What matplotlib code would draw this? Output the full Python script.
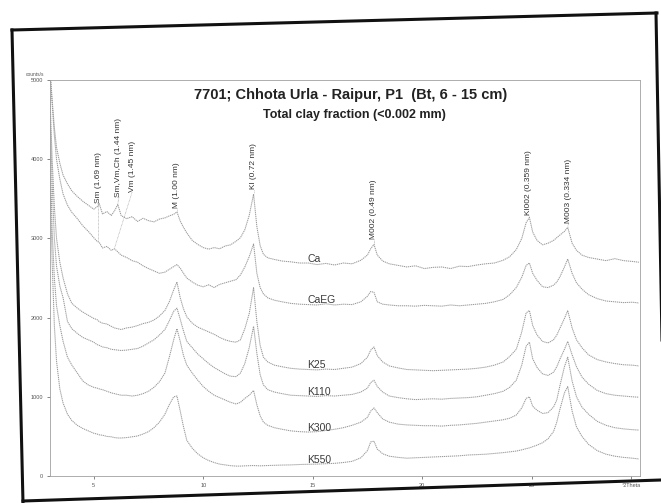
import numpy as np
import matplotlib.pyplot as plt
from matplotlib.lines import Line2D

TWO_THETA = [
    3.0, 3.1, 3.2, 3.3, 3.45, 3.6, 3.8, 4.0, 4.25, 4.5,
    4.75, 5.0, 5.15, 5.25, 5.4, 5.6, 5.8, 5.95, 6.1, 6.25,
    6.5, 6.75, 7.0, 7.25, 7.5, 7.75, 8.0, 8.25, 8.45, 8.65,
    8.8, 8.95, 9.1, 9.25, 9.5, 9.75, 10.0, 10.25, 10.5, 10.75,
    11.0, 11.25, 11.5, 11.7, 11.9, 12.1, 12.3, 12.45, 12.6, 12.75,
    12.95, 13.25, 13.6, 14.0, 14.4, 14.8, 15.2, 15.6, 16.0, 16.4,
    16.8, 17.2, 17.5, 17.65, 17.8, 17.95, 18.2, 18.5, 18.9, 19.3,
    19.7, 20.1, 20.5, 20.9, 21.3, 21.7, 22.1, 22.5, 22.9, 23.3,
    23.7, 24.0, 24.3, 24.55, 24.75, 24.9, 25.05, 25.25, 25.5, 25.75,
    26.0, 26.15, 26.3, 26.5, 26.65, 26.85, 27.05, 27.3, 27.6, 28.0,
    28.4, 28.8, 29.2, 29.6, 29.9,
]

ca = [
    5150, 4750, 4400, 4150, 3950, 3800, 3690, 3600, 3530, 3470,
    3420, 3370, 3400, 3440, 3310, 3340, 3290, 3350, 3430, 3290,
    3250, 3275, 3215, 3255, 3225, 3210, 3245, 3260, 3285, 3305,
    3335, 3220, 3140, 3070, 2975, 2925, 2885, 2865, 2885, 2870,
    2905, 2920, 2965, 3010, 3110, 3290, 3560, 3150, 2910, 2800,
    2755, 2735, 2715, 2705, 2690, 2690, 2670, 2685, 2665, 2690,
    2680, 2725, 2790, 2870, 2925, 2790, 2715, 2680, 2660, 2640,
    2655, 2620, 2635, 2640, 2620, 2650, 2645, 2665, 2680, 2690,
    2725, 2770, 2860, 3000, 3200, 3265, 3080, 2975, 2920, 2940,
    2975, 3010, 3045, 3090, 3140, 2940, 2850, 2790, 2760, 2740,
    2720, 2745, 2720, 2710, 2700,
]

ca_eg = [
    5100, 4700, 4300, 4000, 3750, 3560, 3420, 3330, 3250, 3160,
    3090, 3010, 2965, 2950, 2880, 2900, 2850, 2870, 2830, 2790,
    2760, 2720, 2700, 2655, 2620, 2590, 2560, 2575, 2610, 2645,
    2670, 2625, 2560, 2500, 2450, 2410, 2390, 2415, 2380, 2420,
    2440, 2460, 2480, 2540, 2640, 2770, 2930, 2560, 2380, 2300,
    2250, 2220, 2200, 2180, 2170, 2165, 2160, 2175, 2160, 2170,
    2165, 2200, 2270, 2330, 2320, 2200, 2170, 2160, 2150, 2150,
    2145, 2155, 2150, 2145, 2160, 2150, 2160, 2170, 2180, 2200,
    2230, 2290, 2380, 2510, 2660, 2690, 2560, 2470, 2390, 2380,
    2410, 2450, 2520, 2640, 2740, 2560, 2440, 2360, 2290, 2240,
    2210, 2200, 2190, 2195, 2185,
]

k25 = [
    4800, 4000, 3400, 3000, 2700, 2500, 2300, 2180, 2120, 2070,
    2030, 1990, 1975, 1950, 1930, 1920, 1890, 1870, 1860, 1850,
    1870, 1880, 1900, 1925, 1940, 1970, 2020, 2090, 2200, 2350,
    2450, 2250, 2110, 2010, 1930, 1880, 1850, 1820, 1790, 1750,
    1720, 1700, 1690, 1720, 1860, 2050, 2380, 1950, 1650, 1500,
    1440, 1400, 1380, 1360, 1350, 1345, 1340, 1350, 1345, 1360,
    1375, 1420, 1500, 1590, 1630, 1520, 1440, 1390, 1365, 1345,
    1340, 1335, 1330, 1335, 1340, 1345, 1350, 1360, 1375, 1400,
    1440, 1510, 1600, 1820, 2060, 2090, 1900, 1780, 1700, 1680,
    1720, 1780, 1870, 1990, 2090, 1870, 1720, 1620, 1530, 1470,
    1440, 1420, 1405, 1400, 1390,
]

k110 = [
    4600, 3700, 3000, 2650, 2400, 2250, 1950, 1860, 1800, 1750,
    1720, 1690, 1660, 1650, 1630, 1620, 1600, 1595, 1590, 1585,
    1590, 1600, 1610, 1640, 1680, 1720, 1780, 1850, 1960, 2080,
    2120, 1980, 1830, 1700, 1620, 1540, 1480, 1420, 1370, 1330,
    1290, 1260, 1255, 1300, 1420, 1620, 1890, 1550, 1280, 1150,
    1090, 1060, 1040, 1020, 1015, 1010, 1005, 1015, 1010, 1020,
    1030, 1060, 1110, 1180, 1210, 1130, 1060, 1010, 990, 975,
    965, 970, 975, 970, 980, 985, 990, 1000, 1020, 1040,
    1070, 1120, 1210, 1400, 1640, 1690, 1480, 1370, 1290, 1270,
    1310, 1380, 1480, 1600, 1700, 1530, 1380, 1250, 1160, 1080,
    1040, 1020, 1010, 1000, 995,
]

k300 = [
    4200, 3100, 2500, 2150, 1900, 1700, 1500, 1400, 1300, 1200,
    1150, 1120, 1110, 1100, 1090, 1070, 1050, 1040, 1030, 1020,
    1020, 1010, 1020, 1040, 1070, 1120, 1190, 1300, 1500, 1720,
    1860, 1700, 1520, 1400, 1300, 1210, 1130, 1070, 1020, 990,
    960, 930, 910, 930, 980, 1020, 1080, 900, 760, 680,
    640, 610, 590, 570, 560, 555, 560, 575, 590, 610,
    640, 680, 740, 820, 860, 800, 720, 680, 655, 645,
    640, 635, 635, 630, 640, 645, 655, 665, 680, 695,
    710, 730, 770, 860, 980, 1000, 880, 830, 790, 800,
    870, 960, 1150, 1380, 1500, 1200, 1000, 870, 780, 690,
    640, 610, 595, 585, 580,
]

k550 = [
    3800, 2700, 1900, 1450, 1100, 920, 780, 700, 640, 600,
    570, 540, 530, 520, 515, 500, 495, 485, 480, 480,
    485, 495, 505, 530, 560, 610, 680, 780, 900, 1000,
    1010, 820, 620, 450, 350, 280, 230, 195, 170, 150,
    140, 130, 125, 125, 128, 130, 132, 130, 128, 130,
    132, 135, 138, 140, 145, 148, 150, 155, 160, 170,
    185, 230, 320, 430, 440, 340, 280, 250, 235, 225,
    230, 235, 240, 245, 250, 255, 265, 270, 275, 285,
    295, 305, 315, 330, 345, 355, 370, 390, 420, 470,
    560, 680, 850, 1050, 1130, 820, 620, 500, 400, 320,
    275, 250, 235, 225, 215,
]

trace_names = ['Ca', 'CaEG', 'K25', 'K110', 'K300', 'K550']
traces = [ca, ca_eg, k25, k110, k300, k550]

peak_names = ['Sm (1.69 nm)', 'Sm,Vm,Ch (1.44 nm)', 'Vm (1.45 nm)', 'M (1.00 nm)',
              'Kl (0.72 nm)', 'M002 (0.49 nm)', 'Kl002 (0.359 nm)', 'M003 (0.334 nm)']
peak_pos = [5.2, 6.1, 5.95, 8.8, 12.3, 17.8, 24.9, 26.65]
peak_trace = ['CaEG', 'Ca', 'CaEG', 'Ca', 'Ca', 'Ca', 'Ca', 'Ca']

y_ticks = [0, 1000, 2000, 3000, 4000, 5000]
x_ticks = [5, 10, 15, 20, 25]
x_unit = '°2Theta'

title = '7701; Chhota Urla - Raipur, P1  (Bt, 6 - 15 cm)'
subtitle = 'Total clay fraction (<0.002 mm)'

# where the peak labels sit (text x, text bottom y)
label_x = [5.2, 6.15, 6.75, 8.8, 12.3, 17.8, 24.87, 26.7]
label_y = [3450, 3525, 3590, 3390, 3620, 2995, 3300, 3200]

plt.rcParams['font.family'] = ['Liberation Sans', 'DejaVu Sans']

fig = plt.figure(figsize=(6.61, 5.03), dpi=100)
ax = fig.add_axes([0.0756, 0.0537, 0.8926, 0.787])

line_col = '#9a9a9a'
for name, ys in zip(trace_names, traces):
    ax.plot(TWO_THETA, ys, color=line_col, lw=0.75, ls=(0, (1.2, 0.7)))
    y_at = np.interp(14.75, TWO_THETA, ys)
    ax.text(14.75, y_at + 15, name, fontsize=7.5, color='#3a3a3a',
            ha='left', va='baseline')

trace_by_name = dict(zip(trace_names, traces))
for txt, px, tr, lx, ly in zip(peak_names, peak_pos, peak_trace, label_x, label_y):
    tip = np.interp(px, TWO_THETA, trace_by_name[tr]) + 10
    ax.plot([lx, px], [ly - 5, tip], color='#a0a0a0', lw=0.5, ls=(0, (1, 1)))
    ax.text(lx, ly, txt, rotation=90, fontsize=6, color='#333333',
            ha='center', va='bottom')

ax.set_xlim(3.0, 29.95)
ax.set_ylim(0, 5000)
ax.set_yticks(y_ticks)
ax.set_yticklabels([str(v) for v in y_ticks])
ax.set_xticks(x_ticks + [29.55])
ax.set_xticklabels([str(v) for v in x_ticks] + [x_unit])
ax.tick_params(labelsize=4, colors='#555555', length=2, width=0.5, pad=3)

for sp in ax.spines.values():
    sp.set_color('#a0a0a0')
    sp.set_linewidth(0.6)
    sp.set_linestyle((0, (1, 1)))

ax.text(0.51, 0.963, title, transform=ax.transAxes, ha='center', va='center',
        fontsize=10.5, fontweight='bold', color='#222222')
ax.text(0.516, 0.912, subtitle, transform=ax.transAxes, ha='center', va='center',
        fontsize=9, fontweight='bold', color='#222222')
fig.text(35 / 661, 1 - 77 / 503, 'counts/s', fontsize=3.5, color='#555555',
         ha='center', va='bottom')

# scanned page frame
W, H = 661.0, 503.0
frame = [((12, 30), (657, 13)), ((12, 30), (23, 503)),
         ((23, 501), (661, 480)), ((656, 13), (662, 340))]
for (x0, y0), (x1, y1) in frame:
    fig.add_artist(Line2D([x0 / W, x1 / W], [1 - y0 / H, 1 - y1 / H],
                          transform=fig.transFigure, color='#111111', lw=2.2))

fig.savefig('out.png', dpi=100)
